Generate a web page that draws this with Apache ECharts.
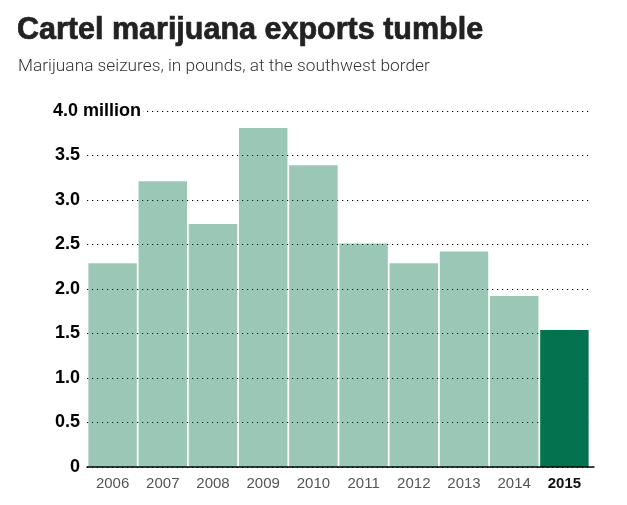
<!DOCTYPE html>
<html><head><meta charset="utf-8">
<style>html,body{margin:0;padding:0;background:#fff}#c{width:627px;height:505px}</style>
<script src="https://cdn.jsdelivr.net/npm/echarts@6/dist/echarts.min.js"></script>
</head><body><div id="c"></div>
<script>
const categories=['2006','2007','2008','2009','2010','2011','2012','2013','2014','2015'];
const seizures=[2.29,3.21,2.73,3.81,3.39,2.51,2.29,2.42,1.92,1.54];
const highlightYear='2015';
const yTicks={min:0,max:4,interval:0.5};
const titleText='Cartel marijuana exports tumble';
const subtitleText='Marijuana seizures, in pounds, at the southwest border';
const unitText='million';
const chart=echarts.init(document.getElementById('c'),null,{renderer:'canvas'});
const yLab={fontFamily:'Liberation Sans',fontWeight:'bold',fontSize:18,color:'#000',margin:7};
chart.setOption({
 animation:false,backgroundColor:'#fff',
 grid:[{left:87,top:111,width:505,height:356},{left:87.5,top:111,width:502,height:356},{left:87,top:111,width:507,height:356}],
 title:[
  {text:titleText,left:12,top:10,textStyle:{fontFamily:'Liberation Sans',fontWeight:'bold',fontSize:30.5,color:'#222',textBorderColor:'#222',textBorderWidth:0.7}},
  {text:subtitleText,left:13,top:53,textStyle:{fontFamily:'Roboto',fontWeight:300,fontSize:17.3,color:'#333'}}
 ],
 xAxis:[
  {gridIndex:0,type:'category',data:[''],axisTick:{show:false},axisLabel:{show:false},axisLine:{show:false}},
  {gridIndex:1,type:'category',data:categories,axisTick:{show:false},axisLine:{show:false},
   axisLabel:{interval:0,margin:9,fontFamily:'Liberation Sans',fontSize:15,color:'#555',
    formatter:v=>v===highlightYear?'{b|'+v+'}':v,rich:{b:{fontFamily:'Liberation Sans',fontWeight:'bold',fontSize:15,color:'#111'}}}},
  {gridIndex:2,type:'category',data:[''],axisTick:{show:false},axisLabel:{show:false},axisLine:{show:true,lineStyle:{color:'#000',width:1.5}},z:6}
 ],
 yAxis:[
  {gridIndex:0,type:'value',...yTicks,axisLine:{show:false},axisTick:{show:false},
   axisLabel:{...yLab,formatter:v=>v===0?'0':v===4?'{t|4.0}':v.toFixed(1),rich:{t:{fontFamily:'Liberation Sans',fontWeight:'bold',fontSize:18,color:'#000',padding:[0,2,0,0]}}},
   splitLine:{show:true,lineStyle:{color:'#000',width:1.2,type:[1.2,3.8]}}},
  {gridIndex:1,type:'value',...yTicks,axisLine:{show:false},axisTick:{show:false},axisLabel:{show:false},splitLine:{show:false}},
  {gridIndex:2,type:'value',...yTicks,axisLine:{show:false},axisTick:{show:false},axisLabel:{show:false},splitLine:{show:false}}
 ],
 series:[
  {type:'bar',xAxisIndex:1,yAxisIndex:1,barCategoryGap:'3.5%',z:2,
   data:categories.map((c,i)=>({value:seizures[i],itemStyle:{color:c===highlightYear?'rgba(0,112,75,0.985)':'rgba(3,115,70,0.395)'}}))}
 ],
 graphic:[{type:'text',z:100,left:81,top:102,style:{text:unitText,fontFamily:'Liberation Sans',fontWeight:'bold',fontSize:18,fill:'#000',backgroundColor:'#fff',padding:[0,2,0,2]}}]
});
</script></body></html>
